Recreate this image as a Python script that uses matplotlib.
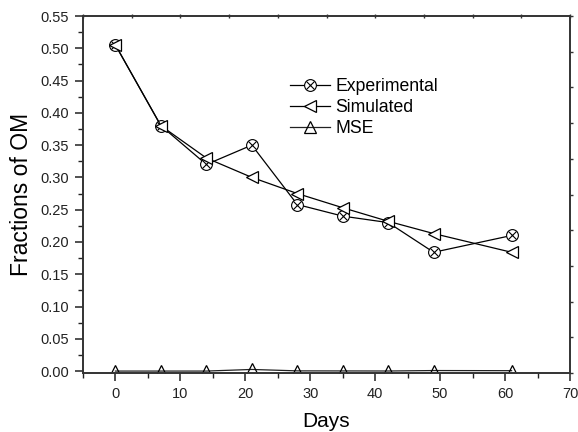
import numpy as np
import matplotlib
matplotlib.use("Agg")
import matplotlib.pyplot as plt
from matplotlib.ticker import MultipleLocator, FormatStrFormatter

plt.rcParams['font.family'] = ['Liberation Sans', 'DejaVu Sans']

# data
days = [0, 7, 14, 21, 28, 35, 42, 49, 61]
experimental = [0.505, 0.380, 0.320, 0.350, 0.258, 0.240, 0.230, 0.184, 0.210]
simulated = [0.505, 0.380, 0.330, 0.300, 0.275, 0.253, 0.232, 0.213, 0.184]
mse = [0.0, 0.0, 0.0, 0.0025, 0.0003, 0.0002, 0.0001, 0.0008, 0.0006]

W, H = 578, 432
fig = plt.figure(figsize=(W / 100, H / 100), dpi=100)
ax = fig.add_axes([83 / W, (H - 373) / H, (570 - 83) / W, (373 - 16) / H])

exp_line, = ax.plot(days, experimental, '-', color='black', lw=0.9, marker='o',
                    ms=8.5, mfc='white', mec='black', mew=0.8)
exp_x, = ax.plot(days, experimental, 'x', color='black', ms=5.5, mew=0.8)
sim_line, = ax.plot(days, simulated, '-', color='black', lw=0.9, marker='<',
                    ms=9, mfc='white', mec='black', mew=0.9)
mse_line, = ax.plot(days, mse, '-', color='#222222', lw=0.9, marker='^', ms=9,
                    mfc='none', mec='black', mew=0.9)

ax.set_xlim(-5, 70)
ax.set_ylim(-0.003, 0.55)
ax.xaxis.set_major_locator(MultipleLocator(10))
ax.xaxis.set_minor_locator(MultipleLocator(5))
ax.yaxis.set_major_locator(MultipleLocator(0.05))
ax.yaxis.set_minor_locator(MultipleLocator(0.025))
ax.yaxis.set_major_formatter(FormatStrFormatter('%.2f'))

ax.tick_params(which='major', direction='out', length=6, width=1.1,
               labelsize=10.5, colors='#222222', pad=4)
ax.tick_params(which='minor', direction='out', length=3.5, width=1.0,
               colors='#222222')
for s in ax.spines.values():
    s.set_linewidth(1.4)
    s.set_color('#333333')

# top / right axes with their own even divisions
top = ax.twiny()
top.set_xlim(0, 1)
top.set_xticks(np.linspace(0, 1, 11))
top.tick_params(axis='x', direction='inout', length=3, width=1.0,
                labeltop=False, colors='#333333')
right = ax.twinx()
right.set_ylim(0, 1)
right.set_yticks(np.linspace(0, 1, 11))
right.tick_params(axis='y', direction='out', length=2.5, width=1.0,
                  labelright=False, colors='#333333')
for a in (top, right):
    for s in a.spines.values():
        s.set_visible(False)

ax.set_xlabel('Days', fontsize=15, labelpad=8)
ax.set_ylabel('Fractions of OM', fontsize=16.5, labelpad=5)

ax.legend([(exp_line, exp_x), sim_line, mse_line],
          ['Experimental', 'Simulated', 'MSE'],
          loc='upper left', bbox_to_anchor=(0.41, 0.845), frameon=False,
          fontsize=12.7, handlelength=2.3, handletextpad=0.3,
          labelspacing=0.22, borderaxespad=0)

fig.savefig('out.png', dpi=100)
